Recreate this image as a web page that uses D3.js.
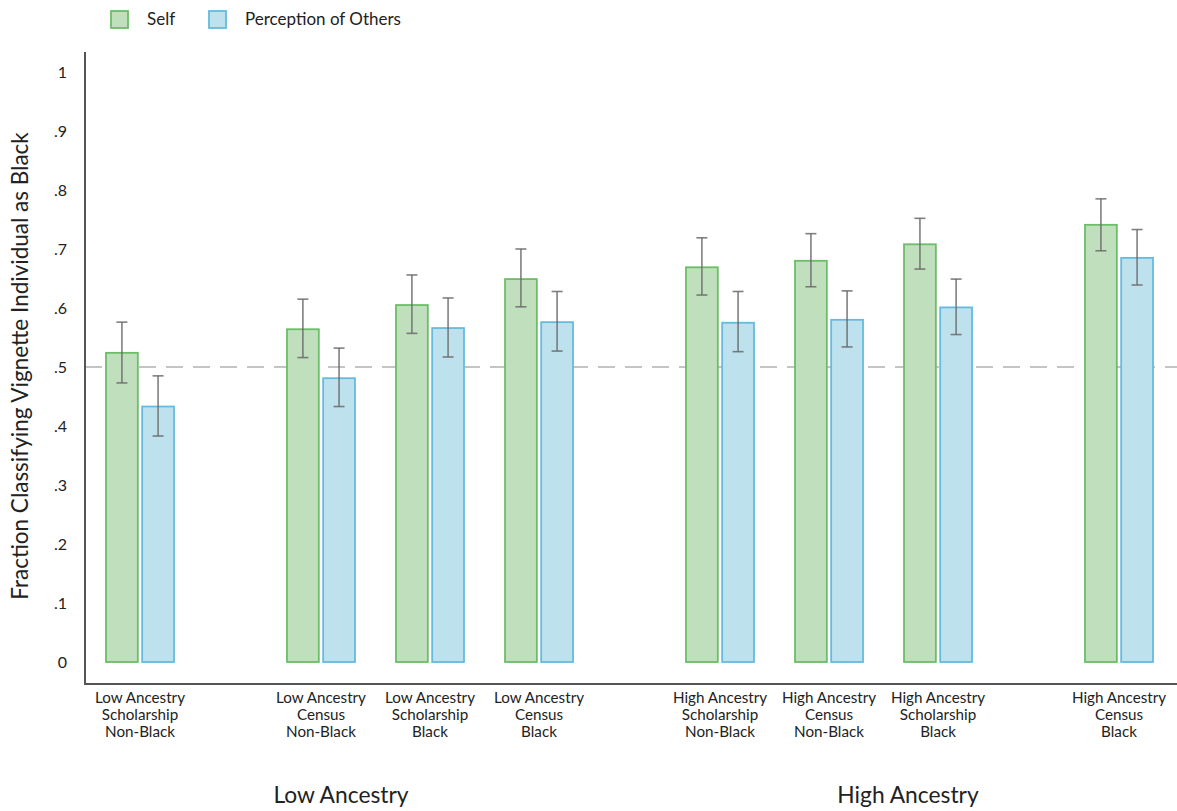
<!DOCTYPE html>
<html><head><meta charset="utf-8">
<script src="https://cdn.jsdelivr.net/npm/d3@7"></script>
<style>
html,body{margin:0;padding:0;background:#fff;}
svg{display:block;font-family:Lato, "Open Sans", sans-serif;}
</style></head>
<body>
<svg id="chart" width="1177" height="811"></svg>
<script>
// ---- data ----
const categories = [
  ["Low Ancestry","Scholarship","Non-Black"],
  ["Low Ancestry","Census","Non-Black"],
  ["Low Ancestry","Scholarship","Black"],
  ["Low Ancestry","Census","Black"],
  ["High Ancestry","Scholarship","Non-Black"],
  ["High Ancestry","Census","Non-Black"],
  ["High Ancestry","Scholarship","Black"],
  ["High Ancestry","Census","Black"]
];
const cluster = [0,1,1,1,2,2,2,3];
const seriesNames = ["Self","Perception of Others"];
const selfValues   = [0.524,0.564,0.605,0.649,0.669,0.680,0.708,0.741];
const selfLow      = [0.473,0.516,0.557,0.602,0.622,0.636,0.666,0.697];
const selfHigh     = [0.576,0.615,0.656,0.700,0.719,0.726,0.752,0.785];
const otherValues  = [0.433,0.481,0.566,0.576,0.575,0.580,0.601,0.685];
const otherLow     = [0.383,0.433,0.517,0.527,0.526,0.534,0.555,0.639];
const otherHigh    = [0.485,0.532,0.617,0.628,0.628,0.629,0.649,0.733];
const yTicks = [0,0.1,0.2,0.3,0.4,0.5,0.6,0.7,0.8,0.9,1];
const refLine = 0.5;
const groupTitles = ["Low Ancestry","High Ancestry"];
const yTitle = "Fraction Classifying Vignette Individual as Black";

// ---- layout ----
const svg = d3.select("#chart");
const axisX = 85, axisTop = 52, axisBottom = 684, rightEnd = 1177;
const gapExtra = 0.66;
const slot = categories.map((d,i)=> i + gapExtra*cluster[i]);
const x = d3.scaleLinear().domain([0, d3.max(slot)]).range([140, 1119]);
const sub = d3.scaleBand().domain([0,1]).range([-34,34]).paddingInner(0.12);
const y = d3.scaleLinear().domain([0,1]).range([662,72]);

const colors = [
  {fill:"#c0dfbd", stroke:"#6cbd68"},
  {fill:"#bee2ed", stroke:"#64bbdd"}
];

// reference line
svg.append("line")
  .attr("x1",axisX).attr("x2",rightEnd)
  .attr("y1",y(refLine)).attr("y2",y(refLine))
  .attr("stroke","#c4c4c4").attr("stroke-width",2)
  .attr("stroke-dasharray","17,10");

// bars
const series = [
  {vals:selfValues, lo:selfLow, hi:selfHigh},
  {vals:otherValues, lo:otherLow, hi:otherHigh}
];
series.forEach((s,si)=>{
  const g = svg.append("g");
  g.selectAll("rect").data(s.vals).join("rect")
    .attr("x",(d,i)=> x(slot[i]) + sub(si))
    .attr("width", sub.bandwidth())
    .attr("y", d=> y(d))
    .attr("height", d=> y(0)-y(d))
    .attr("fill", colors[si].fill)
    .attr("stroke", colors[si].stroke)
    .attr("stroke-width", 1.8);
});
// error bars
series.forEach((s,si)=>{
  const g = svg.append("g").attr("stroke","#6a6a6a").attr("stroke-width",1.6).attr("stroke-opacity",0.85);
  s.vals.forEach((v,i)=>{
    const cx = x(slot[i]) + sub(si) + sub.bandwidth()/2;
    g.append("line").attr("x1",cx).attr("x2",cx).attr("y1",y(s.lo[i])).attr("y2",y(s.hi[i]));
    g.append("line").attr("x1",cx-5.5).attr("x2",cx+5.5).attr("y1",y(s.lo[i])).attr("y2",y(s.lo[i]));
    g.append("line").attr("x1",cx-5.5).attr("x2",cx+5.5).attr("y1",y(s.hi[i])).attr("y2",y(s.hi[i]));
  });
});

// axes lines
svg.append("line").attr("x1",axisX).attr("x2",axisX).attr("y1",axisTop).attr("y2",axisBottom)
  .attr("stroke","#555").attr("stroke-width",2);
svg.append("line").attr("x1",axisX-1).attr("x2",rightEnd).attr("y1",axisBottom).attr("y2",axisBottom)
  .attr("stroke","#555").attr("stroke-width",2);

// y axis ticks
const yAxis = d3.axisLeft(y).tickValues(yTicks).tickSize(0).tickPadding(18)
  .tickFormat(d=> d===0 ? "0" : d===1 ? "1" : d3.format(".1f")(d).replace(/^0/,""));
const ya = svg.append("g").attr("transform",`translate(${axisX},0)`).call(yAxis);
ya.select(".domain").remove();
ya.selectAll("text").attr("font-family","Lato, sans-serif").attr("font-size",16).attr("fill","#222");

// y title
svg.append("text")
  .attr("transform",`translate(28,366) rotate(-90)`)
  .attr("text-anchor","middle").attr("font-size",22.5).attr("fill","#222")
  .text(yTitle);

// x category labels
const xl = svg.append("g").attr("font-size",15.2).attr("fill","#222").attr("text-anchor","middle");
categories.forEach((c,i)=>{
  const t = xl.append("text").attr("x",x(slot[i])).attr("y",703);
  c.forEach((line,k)=> t.append("tspan").attr("x",x(slot[i])).attr("dy",k===0?0:17).text(line));
});

// group titles
const groupCenters = [341, 908];
groupTitles.forEach((t,i)=>{
  svg.append("text").attr("x",groupCenters[i]).attr("y",803)
    .attr("text-anchor","middle").attr("font-size",22.8).attr("fill","#222").text(t);
});

// legend
const legend = svg.append("g");
const legX = [111, 209];
seriesNames.forEach((n,i)=>{
  legend.append("rect").attr("x",legX[i]).attr("y",11).attr("width",17).attr("height",17)
    .attr("fill",colors[i].fill).attr("stroke",colors[i].stroke).attr("stroke-width",1.8);
  legend.append("text").attr("x",legX[i]+36).attr("y",25).attr("font-size",17).attr("fill","#222").text(n);
});
</script>
</body></html>
